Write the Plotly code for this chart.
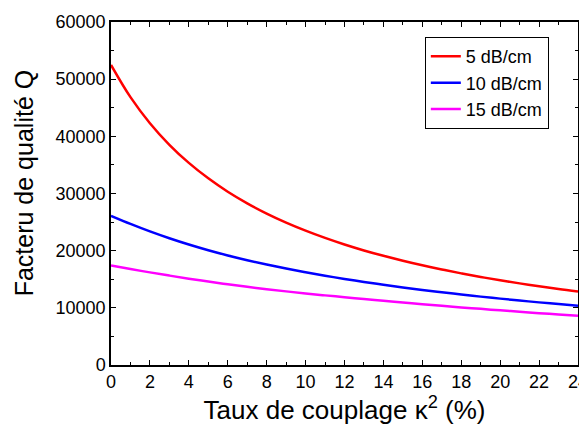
import plotly.graph_objects as go

kappa2 = [0, 1, 2, 3, 4, 5, 6, 7, 8, 9, 10, 11, 12, 13, 14, 15, 16, 17, 18, 19, 20, 21, 22, 23, 24]
q_5db = [52500, 46860, 42300, 38520, 35350, 32650, 30310, 28280, 26490, 24910, 23500, 22230, 21080,
         20040, 19100, 18240, 17440, 16710, 16030, 15400, 14820, 14280, 13770, 13290, 12850]
q_10db = [26100, 24680, 23370, 22170, 21070, 20070, 19160, 18330, 17570, 16870, 16220, 15620, 15060,
          14535, 14040, 13575, 13135, 12720, 12330, 11960, 11610, 11275, 10955, 10650, 10355]
q_15db = [17400, 16790, 16200, 15640, 15100, 14600, 14120, 13680, 13260, 12880, 12520, 12180, 11860,
          11540, 11230, 10930, 10640, 10360, 10080, 9820, 9560, 9310, 9070, 8830, 8600]
names = ["5 dB/cm", "10 dB/cm", "15 dB/cm"]
colors = ["#ff0000", "#0000ff", "#ff00ff"]

font = "Arial, Liberation Sans, sans-serif"
fig = go.Figure()
for y, n, c in zip([q_5db, q_10db, q_15db], names, colors):
    fig.add_trace(go.Scatter(x=kappa2, y=y, name=n, mode="lines",
                             line=dict(color=c, width=2.5, shape="spline", smoothing=1.0)))

axis_common = dict(showline=True, linecolor="black", linewidth=1.5, mirror="allticks",
                   ticks="inside", ticklen=5, tickwidth=1.2, tickcolor="black",
                   showgrid=False, zeroline=False, ticklabeloverflow="allow",
                   tickfont=dict(family=font, size=18, color="black"))
fig.update_xaxes(range=[0, 24], tick0=0, dtick=2,
                 minor=dict(ticks="inside", ticklen=3, dtick=1, tickcolor="black"),
                 title=dict(text="Taux de couplage κ<sup>2</sup> (%)",
                            font=dict(family=font, size=26, color="black"), standoff=1),
                 **axis_common)
fig.update_yaxes(range=[0, 60000], tick0=0, dtick=10000, tickformat="d",
                 minor=dict(ticks="inside", ticklen=3, dtick=5000, tickcolor="black"),
                 title=dict(text="&nbsp;&nbsp;&nbsp;Facteru de qualité Q",
                            font=dict(family=font, size=25, color="black"), standoff=15),
                 **axis_common)
fig.update_layout(width=579, height=417, plot_bgcolor="white", paper_bgcolor="white",
                  margin=dict(l=103, r=9, t=14, b=60, autoexpand=False),
                  font=dict(family=font, color="black"),
                  legend=dict(x=0.672, y=0.956, xanchor="left", yanchor="top",
                              bordercolor="black", borderwidth=1, bgcolor="white",
                              font=dict(family=font, size=18, color="black"),
                              tracegroupgap=0, itemwidth=30))
fig.write_html("out.html")
